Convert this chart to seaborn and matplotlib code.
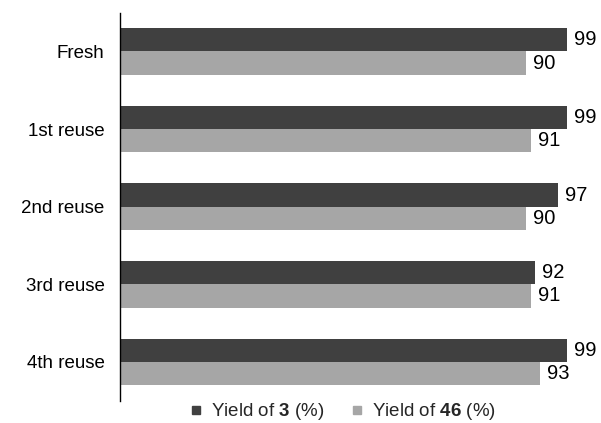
import matplotlib
matplotlib.use("Agg")
import matplotlib.pyplot as plt
from matplotlib.lines import Line2D
import seaborn as sns
import pandas as pd

# Catalyst recycling runs and product yields
runs = ["Fresh", "1st reuse", "2nd reuse", "3rd reuse", "4th reuse"]
yield_3 = [99, 99, 97, 92, 99]
yield_46 = [90, 91, 90, 91, 93]
series_names = ["Yield of $\\mathbf{3}$ (%)", "Yield of $\\mathbf{46}$ (%)"]
colors = ["#404040", "#a6a6a6"]

sns.set_theme(style="white")
plt.rcParams["font.family"] = ["Liberation Sans", "DejaVu Sans"]
plt.rcParams["mathtext.fontset"] = "custom"
plt.rcParams["mathtext.rm"] = "Liberation Sans"
plt.rcParams["mathtext.bf"] = "Liberation Sans:bold"

df = pd.DataFrame({
    "run": runs * 2,
    "value": yield_3 + yield_46,
    "series": [series_names[0]] * len(runs) + [series_names[1]] * len(runs),
})

fig = plt.figure(figsize=(6.01, 4.23), dpi=100)
ax = fig.add_axes([0.1997, 0.0527, 0.7508, 0.9173])

sns.barplot(data=df, x="value", y="run", hue="series", orient="h",
            palette=colors, width=0.6, gap=0, ax=ax, legend=False,
            edgecolor="none", linewidth=0)

for cont in ax.containers:
    ax.bar_label(cont, fmt="%d", padding=5, fontsize=14.5, color="black")

ax.set_xlim(0, 100)
ax.set_ylim(4.5, -0.5)
ax.set_xlabel("")
ax.set_ylabel("")
ax.set_xticks([])
ax.tick_params(axis="y", length=0, pad=11, labelsize=13.5, labelcolor="black")
for side in ["top", "right", "bottom"]:
    ax.spines[side].set_visible(False)
ax.spines["left"].set_color("black")
ax.spines["left"].set_linewidth(1.0)

handles = [Line2D([], [], marker="s", linestyle="none", markersize=6,
                  markerfacecolor=c, markeredgecolor=c) for c in colors]
fig.legend(handles, series_names, loc="center", bbox_to_anchor=(0.568, 0.027),
           ncol=2, frameon=False, fontsize=13.5, handletextpad=0.3,
           columnspacing=1.2, handlelength=1.0)

fig.savefig("out.png", dpi=100, facecolor="white")
